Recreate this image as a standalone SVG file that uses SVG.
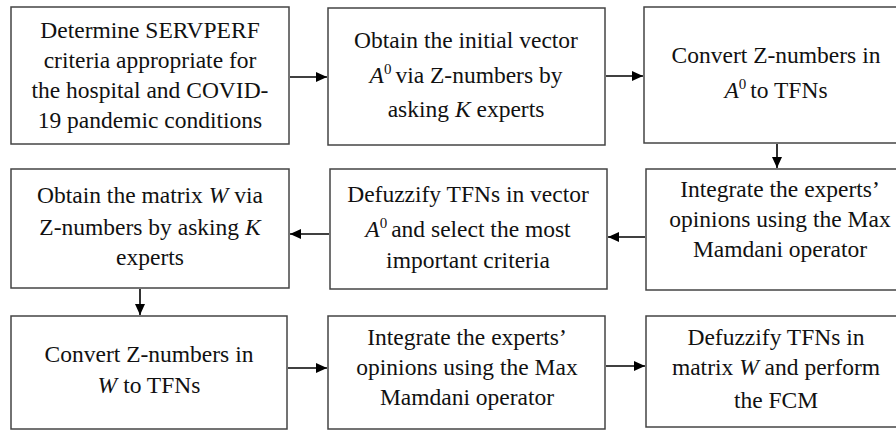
<svg xmlns="http://www.w3.org/2000/svg" width="896" height="431" viewBox="0 0 896 431">
<defs>
<marker id="ah" markerWidth="12" markerHeight="10" refX="11" refY="5" orient="auto" markerUnits="userSpaceOnUse">
<path d="M0,0 L11,5 L0,10 Z" fill="#000"/>
</marker>
<style>
.box{fill:#fff;stroke:#444;stroke-width:1.5}
.t{font-family:'Liberation Serif','DejaVu Serif',serif;font-size:23.5px;fill:#111;text-anchor:middle}
.i{font-style:italic}
.c{stroke:#000;stroke-width:1.6;fill:none;marker-end:url(#ah)}
</style>
</defs>
<rect width="896" height="431" fill="#fff"/>
<g id="n1"><rect class="box" x="11" y="7" width="278" height="137"/>
<text class="t" x="150" y="38">Determine SERVPERF</text>
<text class="t" x="150" y="68">criteria appropriate for</text>
<text class="t" x="150" y="98">the hospital and COVID-</text>
<text class="t" x="150" y="128">19 pandemic conditions</text></g>
<g id="n2"><rect class="box" x="328" y="8" width="277" height="137"/>
<text class="t" x="466" y="48">Obtain the initial vector</text>
<text class="t" x="466" y="83"><tspan class="i">A</tspan><tspan dy="-9" font-size="15">0</tspan><tspan dy="9" dx="4">via Z-numbers by</tspan></text>
<text class="t" x="466" y="117">asking <tspan class="i">K</tspan> experts</text></g>
<g id="n3"><rect class="box" x="644" y="7" width="270" height="136"/>
<text class="t" x="776" y="63">Convert Z-numbers in</text>
<text class="t" x="776" y="98"><tspan class="i">A</tspan><tspan dy="-9" font-size="15">0</tspan><tspan dy="9" dx="4">to TFNs</tspan></text></g>
<g id="n4"><rect class="box" x="646" y="169" width="270" height="121"/>
<text class="t" x="780" y="197">Integrate the experts’</text>
<text class="t" x="780" y="227">opinions using the Max</text>
<text class="t" x="780" y="257">Mamdani operator</text></g>
<g id="n5"><rect class="box" x="330" y="169" width="277" height="120"/>
<text class="t" x="468" y="202">Defuzzify TFNs in vector</text>
<text class="t" x="468" y="237"><tspan class="i">A</tspan><tspan dy="-9" font-size="15">0</tspan><tspan dy="9" dx="4">and select the most</tspan></text>
<text class="t" x="468" y="268">important criteria</text></g>
<g id="n6"><rect class="box" x="11" y="169" width="278" height="119"/>
<text class="t" x="150" y="203">Obtain the matrix <tspan class="i">W</tspan><tspan dx="6">via</tspan></text>
<text class="t" x="150" y="235">Z-numbers by asking <tspan class="i">K</tspan></text>
<text class="t" x="150" y="265">experts</text></g>
<g id="n7"><rect class="box" x="11" y="316" width="276" height="113"/>
<text class="t" x="149" y="362">Convert Z-numbers in</text>
<text class="t" x="149" y="393"><tspan class="i">W</tspan><tspan dx="6">to TFNs</tspan></text></g>
<g id="n8"><rect class="box" x="328" y="316" width="277" height="113"/>
<text class="t" x="467" y="345">Integrate the experts’</text>
<text class="t" x="467" y="375">opinions using the Max</text>
<text class="t" x="467" y="405">Mamdani operator</text></g>
<g id="n9"><rect class="box" x="646" y="316" width="270" height="111"/>
<text class="t" x="776" y="345">Defuzzify TFNs in</text>
<text class="t" x="776" y="375">matrix <tspan class="i">W</tspan> and perform</text>
<text class="t" x="776" y="408">the FCM</text></g>
<g id="connectors">
<line class="c" x1="290" y1="77" x2="327" y2="77"/>
<line class="c" x1="606" y1="76" x2="643" y2="76"/>
<line class="c" x1="777" y1="144" x2="777" y2="168"/>
<line class="c" x1="645" y1="237" x2="608" y2="237"/>
<line class="c" x1="329" y1="234" x2="290" y2="234"/>
<line class="c" x1="140" y1="289" x2="140" y2="315"/>
<line class="c" x1="288" y1="368" x2="327" y2="368"/>
<line class="c" x1="606" y1="366" x2="645" y2="366"/>
</g>
</svg>
